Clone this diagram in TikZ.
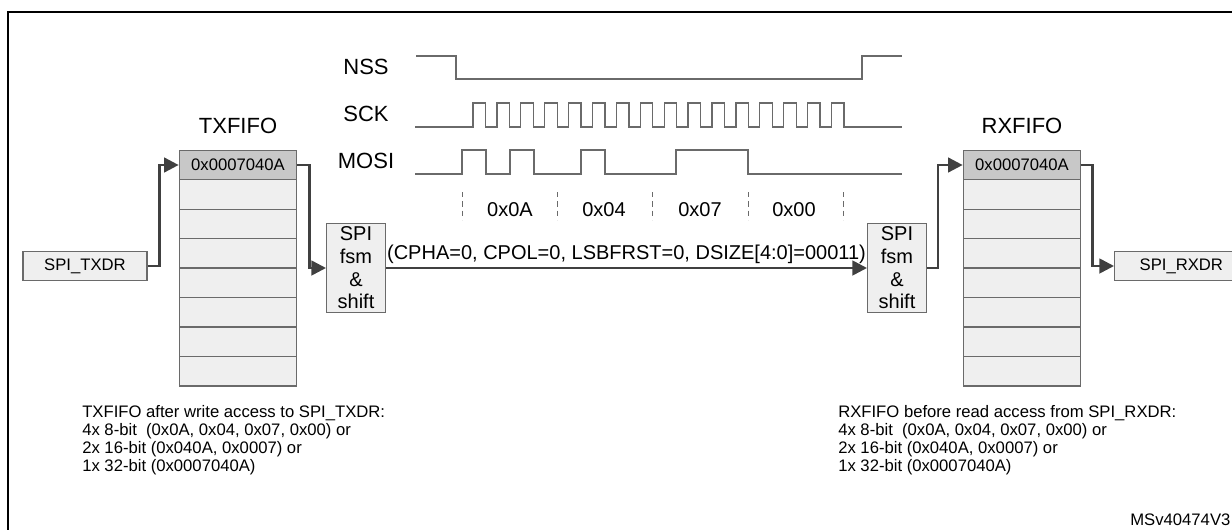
\documentclass[tikz,border=0pt]{standalone}
\usepackage{fontspec}
\setmainfont{Liberation Sans}
\usetikzlibrary{arrows.meta,positioning}
\definecolor{cellfill}{HTML}{EFEFEF}
\definecolor{headfill}{HTML}{C8C8C8}
\definecolor{edgegray}{HTML}{6A6A6A}
\definecolor{flowgray}{HTML}{404040}
\tikzset{
    cell/.style = {draw=edgegray, fill=cellfill, line width=1pt, minimum width=88pt, minimum height=22.1pt, inner sep=0pt, font=\fontsize{12.5}{13}\selectfont},
    head/.style = {cell, fill=headfill},
    reg/.style = {draw=edgegray, fill=cellfill, line width=1pt, minimum height=21.5pt, inner sep=0pt, font=\fontsize{12.5}{13}\selectfont},
    fsm/.style = {draw=edgegray, fill=cellfill, line width=1pt, minimum width=44pt, minimum height=67pt, inner sep=0pt, align=center, font=\fontsize{15}{17}\selectfont},
    flow/.style = {draw=flowgray, line width=2pt, -{Triangle[length=11pt,width=11pt]}},
    wave/.style = {draw=edgegray, line width=1pt},
    sig/.style = {font=\fontsize{16.5}{17}\selectfont},
    note/.style = {align=left, anchor=north west, inner sep=0pt, font=\fontsize{12.5}{13.5}\selectfont}
}
\begin{document}
\begin{tikzpicture}[x=0.75pt, y=-0.75pt]
    \useasboundingbox (0,0) rectangle (1232,529);
    \draw [line width=1.6pt] (8,540) -- (8,12) -- (1245,12);
    % signals
    \node [sig] (nss) at (366,67) {NSS};
    \node [sig] (sck) at (366,114) {SCK};
    \node [sig] (mosi) at (366,161) {MOSI};
    \draw [wave] (416,56) -- (456,56) -- (456,79) -- (862,79) -- (862,56) -- (902,56);
    \draw [wave] (415,127) -- (473,127)
        \foreach \i in {0,...,15} { -- ++(0,-24) -- ++(12.5,0) -- ++(0,24) -- ++(11.4,0) }
        -- (902,127);
    \draw [wave] (415,174) -- (462,174) -- (462,150) -- (486,150) -- (486,174) -- (510,174) -- (510,150)
        -- (534,150) -- (534,174) -- (581,174) -- (581,150) -- (605,150) -- (605,174) -- (676,174)
        -- (676,150) -- (748,150) -- (748,174) -- (902,174);
    \foreach \x in {462,557,652,748,843}
        \draw [edgegray, dashed, dash pattern=on 4pt off 3pt] (\x,192) -- (\x,220);
    \foreach \x/\v in {510/0x0A,604/0x04,700/0x07,794/0x00}
        \node [font=\fontsize{15}{16}\selectfont] (b\v) at (\x,210) {\v};
    % transmit side
    \node [sig] (txlabel) at (238,126) {TXFIFO};
    \node [head] (tx0) at (238,165) {0x0007040A};
    \foreach \i [remember=\i as \j (initially 0)] in {1,...,7}
        \node [cell, below=-1pt of tx\j] (tx\i) {};
    \node [reg, minimum width=93pt] (txdr) at (85,266) {SPI\_TXDR};
    \node [fsm] (txfsm) at (356,268) {SPI\\fsm\\\&\\shift};
    \draw [flow] (txdr.east) -- ++(12,0) |- (tx0.west);
    \draw [flow] (tx0.east) -- ++(12,0) |- (txfsm.west);
    % receive side
    \node [sig] (rxlabel) at (1022,126) {RXFIFO};
    \node [head] (rx0) at (1022,165) {0x0007040A};
    \foreach \i [remember=\i as \j (initially 0)] in {1,...,7}
        \node [cell, below=-1pt of rx\j] (rx\i) {};
    \node [reg, minimum width=100pt, anchor=west] (rxdr) at (1114,266) {SPI\_RXDR};
    \node [fsm] (rxfsm) at (897,268) {SPI\\fsm\\\&\\shift};
    \draw [flow] (txfsm.east) -- node [above=-1pt, font=\fontsize{15}{16}\selectfont] {(CPHA=0, CPOL=0, LSBFRST=0, DSIZE[4:0]=00011)} (rxfsm.west);
    \draw [flow] (rxfsm.east) -- ++(11,0) |- (rx0.west);
    \draw [flow] (rx0.east) -- ++(11,0) |- (rxdr.west);
    % notes
    \node [note] (txnote) at (82,405) {TXFIFO after write access to SPI\_TXDR:\\4x 8-bit~~(0x0A, 0x04, 0x07, 0x00) or\\2x 16-bit (0x040A, 0x0007) or\\1x 32-bit (0x0007040A)};
    \node [note] (rxnote) at (838,405) {RXFIFO before read access from SPI\_RXDR:\\4x 8-bit~~(0x0A, 0x04, 0x07, 0x00) or\\2x 16-bit (0x040A, 0x0007) or\\1x 32-bit (0x0007040A)};
    \node [font=\fontsize{12.5}{13}\selectfont, anchor=east, inner sep=1pt] (tag) at (1232,520) {MSv40474V3};
\end{tikzpicture}
\end{document}
